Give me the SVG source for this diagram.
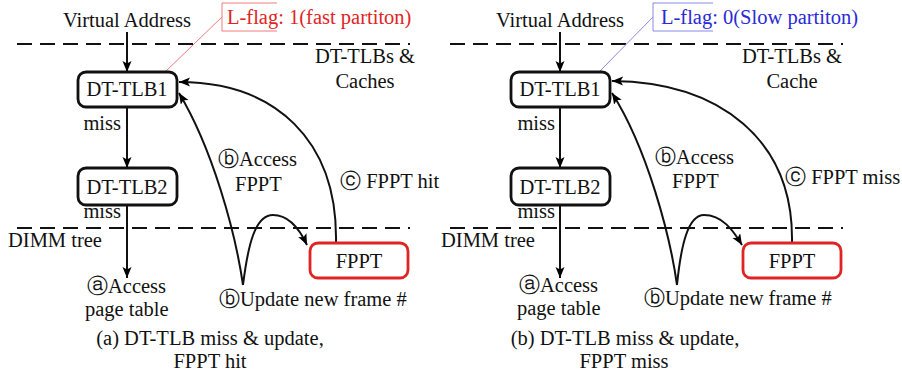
<svg xmlns="http://www.w3.org/2000/svg" width="902" height="379" viewBox="0 0 902 379">
  <defs>
    <marker id="arrow" markerUnits="userSpaceOnUse" markerWidth="12" markerHeight="10" refX="11" refY="4.5" orient="auto">
      <path d="M0,0 L11,4.5 L0,9 L2.5,4.5 Z" fill="#000"/>
    </marker>
    <style>
      text { font-family: "Liberation Serif", "Times New Roman", serif; font-size: 20.5px; fill: #111; }
      .mid { text-anchor: middle; }
      .end { text-anchor: end; }
      .box { fill: #fff; stroke: #111; stroke-width: 2.8; }
      .fppt { fill: #fff; stroke: #e02424; stroke-width: 2.8; }
      .dash { fill: none; stroke: #111; stroke-width: 2.2; stroke-dasharray: 15 8; }
      .link { fill: none; stroke: #111; stroke-width: 2; marker-end: url(#arrow); }
      .redtxt { fill: #e02424; }
      .bluetxt { fill: #2a2ad6; }
      .redln { fill: none; stroke: #f07a7a; stroke-width: 1; }
      .blueln { fill: none; stroke: #8a8ae6; stroke-width: 1; }
    </style>
  </defs>

  <!-- ===== Panel (a): FPPT hit ===== -->
  <g id="panel-a">
    <g id="a-layers">
      <path class="dash" d="M17,44 H410"/>
      <path class="dash" d="M17,228 H410"/>
      <text class="mid" x="365" y="63">DT-TLBs &amp;</text>
      <text class="mid" x="365" y="88">Caches</text>
      <text x="8" y="247">DIMM tree</text>
    </g>

    <g id="a-connectors">
      <path class="link" d="M127,32 V72"/>
      <path class="link" d="M127,107 V168"/>
      <path class="link" d="M127,205 V278"/>
      <path class="link" d="M243,285 C235,230 212,148 179,93"/>
      <path class="link" d="M243,285 C248,245 255,215 273,215 C290,215 300,230 307,245"/>
      <path class="link" d="M336,243 C338,140 275,82 179,82"/>
    </g>

    <g id="a-vaddr">
      <text class="mid" x="127" y="27">Virtual Address</text>
    </g>
    <g id="a-lflag">
      <path class="redln" d="M277,3 H222 V31 H277"/>
      <path class="redln" d="M222,17 L165,72"/>
      <text class="redtxt" x="227" y="24">L-flag: 1(fast partiton)</text>
    </g>
    <g id="a-tlb1">
      <rect class="box" x="78" y="72" width="99" height="35" rx="8"/>
      <text class="mid" x="127" y="96">DT-TLB1</text>
    </g>
    <g id="a-tlb2">
      <rect class="box" x="78" y="168" width="99" height="37" rx="8"/>
      <text class="mid" x="127" y="194">DT-TLB2</text>
    </g>
    <g id="a-fppt">
      <rect class="fppt" x="310" y="243" width="98" height="35" rx="8"/>
      <text class="mid" x="359" y="268">FPPT</text>
    </g>
    <g id="a-labels">
      <text class="end" x="121" y="130">miss</text>
      <text class="end" x="121" y="218">miss</text>
      <text x="87" y="293">ⓐAccess</text>
      <text x="85" y="316">page table</text>
      <text x="218" y="166">ⓑAccess</text>
      <text x="235" y="191">FPPT</text>
      <text x="340" y="188">ⓒ FPPT hit</text>
      <text x="219" y="306">ⓑUpdate new frame #</text>
    </g>
    <g id="a-caption">
      <text class="mid" x="210" y="345">(a) DT-TLB miss &amp; update,</text>
      <text class="mid" x="210" y="368">FPPT hit</text>
    </g>
  </g>

  <!-- ===== Panel (b): FPPT miss ===== -->
  <g id="panel-b">
    <g id="b-layers">
      <path class="dash" d="M450,44 H843"/>
      <path class="dash" d="M450,228 H843"/>
      <text class="mid" x="792" y="63">DT-TLBs &amp;</text>
      <text class="mid" x="792" y="88">Cache</text>
      <text x="441" y="247">DIMM tree</text>
    </g>

    <g id="b-connectors">
      <path class="link" d="M560,32 V72"/>
      <path class="link" d="M560,107 V168"/>
      <path class="link" d="M560,205 V278"/>
      <path class="link" d="M677,285 C670,235 647,148 612,93"/>
      <path class="link" d="M677,285 C681,245 688,215 704,215 C722,215 733,230 742,245"/>
      <path class="link" d="M792,243 C794,140 720,82 612,81"/>
    </g>

    <g id="b-vaddr">
      <text class="mid" x="560" y="27">Virtual Address</text>
    </g>
    <g id="b-lflag">
      <path class="blueln" d="M713,3 H653 V31 H713"/>
      <path class="blueln" d="M653,17 L600,71"/>
      <text class="bluetxt" x="661" y="24">L-flag: 0(Slow partiton)</text>
    </g>
    <g id="b-tlb1">
      <rect class="box" x="511" y="72" width="99" height="35" rx="8"/>
      <text class="mid" x="560" y="96">DT-TLB1</text>
    </g>
    <g id="b-tlb2">
      <rect class="box" x="511" y="168" width="99" height="37" rx="8"/>
      <text class="mid" x="560" y="194">DT-TLB2</text>
    </g>
    <g id="b-fppt">
      <rect class="fppt" x="743" y="243" width="98" height="35" rx="8"/>
      <text class="mid" x="792" y="268">FPPT</text>
    </g>
    <g id="b-labels">
      <text class="end" x="555" y="130">miss</text>
      <text class="end" x="555" y="218">miss</text>
      <text x="519" y="292">ⓐAccess</text>
      <text x="517" y="315">page table</text>
      <text x="655" y="164">ⓑAccess</text>
      <text x="672" y="188">FPPT</text>
      <text x="785" y="184">ⓒ FPPT miss</text>
      <text x="644" y="305">ⓑUpdate new frame #</text>
    </g>
    <g id="b-caption">
      <text class="mid" x="625" y="345">(b) DT-TLB miss &amp; update,</text>
      <text class="mid" x="624" y="368">FPPT miss</text>
    </g>
  </g>
</svg>
